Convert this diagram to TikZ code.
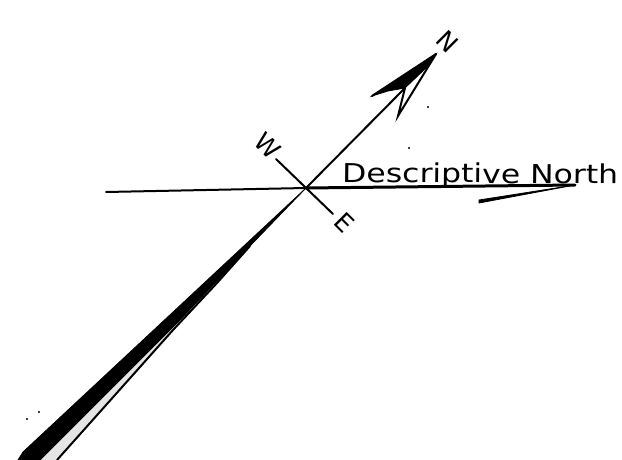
\documentclass[tikz,border=0pt]{standalone}
\usepackage{fontspec}
\setmainfont{DejaVu Sans}
\usetikzlibrary{positioning}

\begin{document}
\begin{tikzpicture}[
        x=1pt, y=-1pt,
        axisline/.style={draw=black, line width=2pt, line cap=round},
        heavyline/.style={draw=black, line width=3pt, line cap=round},
        wedge/.style={fill=black, draw=black, line width=0.8pt},
        compasslabel/.style={font=\fontsize{25}{25}\selectfont, inner sep=0pt, rotate=-45},
        speck/.style={fill=black, draw=none}
    ]
        \useasboundingbox (0,0) rectangle (622,460);
        \fill[white] (0,0) rectangle (622,460);

        \coordinate (centre) at (306,188);
        \coordinate (tip) at (436,54);
        \coordinate (leftbarb) at (372,96);
        \coordinate (notch) at (405,88);
        \coordinate (rightbarb) at (398,116);
        \coordinate (west) at (276,159);
        \coordinate (east) at (333,214);
        \coordinate (start) at (106,192);
        \coordinate (end) at (575,185);
        \coordinate (lowbarb) at (479,203);

        % north arrow
        \draw[axisline] (centre) -- (notch);
        \fill[wedge] (tip) -- (leftbarb) -- (388,91) -- (notch) -- (426,68) -- cycle;
        \draw[axisline] (tip) -- (rightbarb) -- (notch);
        \draw[axisline] (leftbarb) -- (tip);

        % cross line and horizontal
        \draw[axisline] (west) -- (east);
        \draw[axisline] (start) -- (centre);
        \draw[heavyline] (centre) -- (end);
        \fill[wedge] (end) -- (479,200) -- (lowbarb) -- cycle;

        % south end
        \fill[black!10] (180,318) -- (250,246) -- (217,283) -- (173,330) -- (57,460) -- (40,460) -- cycle;
        \fill[wedge] (centre) -- (250,246) -- (180,320) -- (40,460) -- (18,460) -- (23,452) -- cycle;
        \draw[axisline] (250,246) -- (217,283) -- (173,330) -- (57,460);

        % labels
        \node[compasslabel] (northlabel) at (448,42) {N};
        \node[compasslabel] (westlabel) at (268,146) {W};
        \node[compasslabel] (eastlabel) at (345,223) {E};
        \node[font=\fontsize{26}{26}\selectfont, inner sep=0pt, anchor=base west, xscale=1.21, rotate=-0.5] (caption) at (342,182) {Descriptive North};

        % scan specks
        \foreach \px/\py in {428/107, 409/148, 27/419, 39/412}
            \fill[speck] (\px,\py) circle (1.2pt);
    \end{tikzpicture}
\end{document}
